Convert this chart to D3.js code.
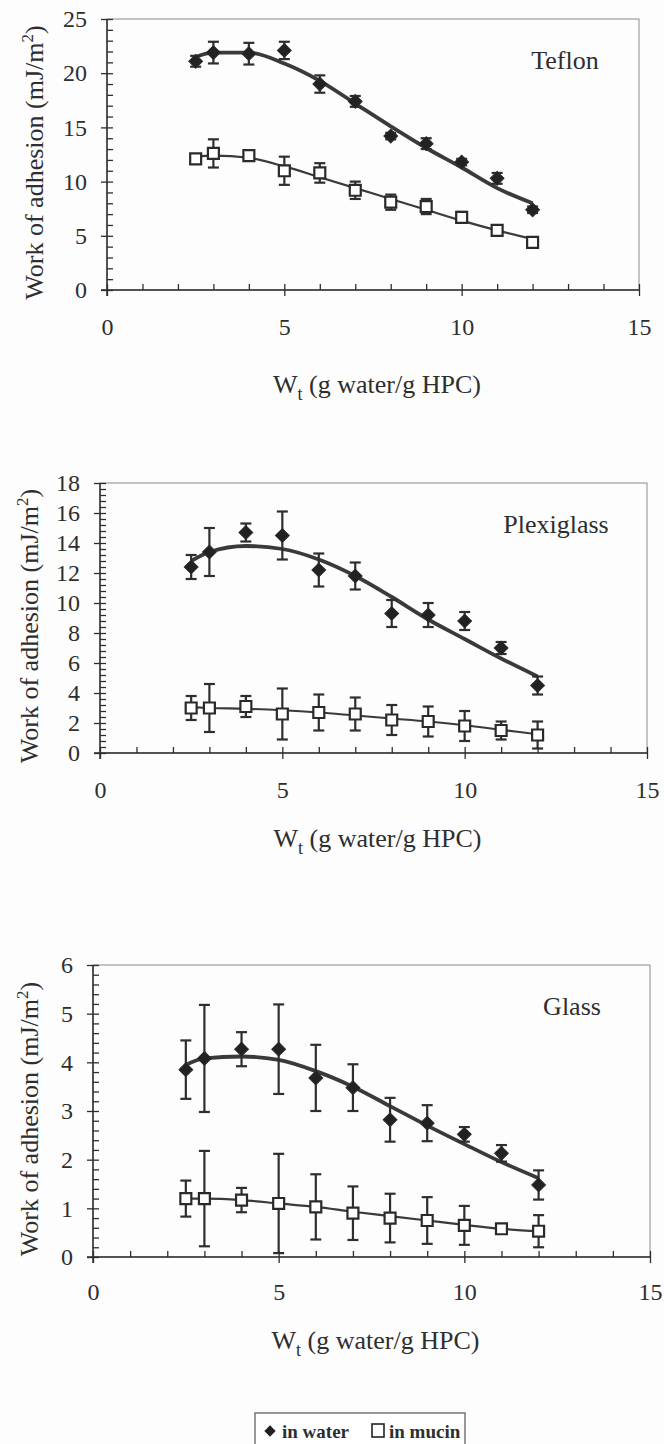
<!DOCTYPE html>
<html>
<head>
<meta charset="utf-8">
<script src="https://cdn.jsdelivr.net/npm/d3@7"></script>
<style>
  body { margin: 0; background: #fdfdfd; }
  svg text { font-family: "Liberation Serif", "Times New Roman", serif !important; fill: #2e2e2e; }
</style>
</head>
<body>
<script>
/*
 * Data
 *
 */
const wt = [2.5, 3, 4, 5, 6, 7, 8, 9, 10, 11, 12];

const teflonWater = [21.1, 21.9, 21.8, 22.1, 19.0, 17.4, 14.2, 13.5, 11.8, 10.3, 7.4];
const teflonWaterErr = [0.5, 1.0, 1.0, 0.8, 0.8, 0.5, 0.3, 0.5, 0.3, 0.5, 0.3];
const teflonWaterFit = [21.5, 21.9, 21.9, 20.9, 19.3, 17.2, 15.1, 13.1, 11.3, 9.4, 8.0];
const teflonMucin = [12.1, 12.6, 12.4, 11.0, 10.8, 9.2, 8.1, 7.7, 6.7, 5.5, 4.4];
const teflonMucinErr = [0.4, 1.3, 0.2, 1.3, 0.9, 0.8, 0.7, 0.7, 0.5, 0.3, 0.4];
const teflonMucinFit = [12.3, 12.4, 12.2, 11.4, 10.4, 9.4, 8.4, 7.4, 6.4, 5.5, 4.7];

const plexiWater = [12.4, 13.4, 14.7, 14.5, 12.2, 11.8, 9.3, 9.2, 8.8, 7.0, 4.5];
const plexiWaterErr = [0.8, 1.6, 0.6, 1.6, 1.1, 0.9, 0.9, 0.8, 0.6, 0.4, 0.6];
const plexiWaterFit = [12.8, 13.4, 13.8, 13.6, 12.9, 11.8, 10.4, 8.9, 7.6, 6.3, 5.1];
const plexiMucin = [3.0, 3.0, 3.1, 2.6, 2.7, 2.6, 2.2, 2.1, 1.8, 1.5, 1.2];
const plexiMucinErr = [0.8, 1.6, 0.7, 1.7, 1.2, 1.1, 1.0, 1.0, 1.0, 0.6, 0.9];
const plexiMucinFit = [3.05, 3.0, 2.95, 2.85, 2.7, 2.5, 2.3, 2.1, 1.85, 1.55, 1.25];

const glassWater = [3.85, 4.08, 4.27, 4.27, 3.68, 3.48, 2.82, 2.75, 2.52, 2.13, 1.48];
const glassWaterErr = [0.6, 1.1, 0.35, 0.92, 0.68, 0.48, 0.45, 0.37, 0.15, 0.17, 0.3];
const glassWaterFit = [3.95, 4.08, 4.12, 4.05, 3.82, 3.5, 3.1, 2.7, 2.32, 1.95, 1.62];
const glassMucin = [1.2, 1.2, 1.17, 1.1, 1.03, 0.9, 0.8, 0.75, 0.65, 0.58, 0.53];
const glassMucinErr = [0.37, 0.98, 0.25, 1.02, 0.67, 0.55, 0.5, 0.48, 0.4, 0.08, 0.33];
const glassMucinFit = [1.2, 1.2, 1.17, 1.1, 1.03, 0.93, 0.84, 0.75, 0.66, 0.58, 0.53];

const xTicks = [0, 5, 10, 15];
const legendLabels = ['in water', 'in mucin'];

const ink = '#2e2e2e';
const serif = '"Liberation Serif", "Times New Roman", serif';

const svg = d3.select('body')
  .append('svg')
  .attr('width', 664)
  .attr('height', 1444)
  .attr('font-family', serif);

/*
 * One panel
 *
 */
function drawPanel(p) {
  const x = d3.scaleLinear().domain([0, 15]).range([p.left, p.right]);
  const y = d3.scaleLinear().domain([0, p.ymax]).range([p.bottom, p.top]);
  const g = svg.append('g');

  // frame
  g.append('rect')
    .attr('x', p.left).attr('y', p.top)
    .attr('width', p.right - p.left).attr('height', p.bottom - p.top)
    .attr('fill', 'none').attr('stroke', '#8a8a8a').attr('stroke-width', 1);

  const minorY = d3.range(0, p.ymax + 1e-6, p.minor);
  const majorY = d3.range(0, p.ymax + 1e-6, p.major);

  // inside ticks, y
  g.append('g')
    .attr('transform', `translate(${p.left},0)`)
    .call(d3.axisLeft(y).tickValues(minorY).tickSize(-6).tickFormat(''))
    .call(a => a.select('.domain').remove());
  // outside ticks + labels, y
  g.append('g')
    .attr('transform', `translate(${p.left},0)`)
    .call(d3.axisLeft(y).tickValues(majorY).tickSize(6).tickPadding(14).tickFormat(d3.format('d')))
    .call(a => a.select('.domain').remove())
    .call(a => a.selectAll('text').style('font-size', '24px').style('font-family', serif).attr('fill', ink));

  const minorX = d3.range(0, 15.001, 1);
  g.append('g')
    .attr('transform', `translate(0,${p.bottom})`)
    .call(d3.axisBottom(x).tickValues(minorX).tickSize(-6).tickFormat(''))
    .call(a => a.select('.domain').remove());
  g.append('g')
    .attr('transform', `translate(0,${p.bottom})`)
    .call(d3.axisBottom(x).tickValues(xTicks).tickSize(6).tickPadding(p.xPad).tickFormat(d3.format('d')))
    .call(a => a.select('.domain').remove())
    .call(a => a.selectAll('text').style('font-size', '24px').style('font-family', serif).attr('fill', ink));

  g.selectAll('.tick line').attr('stroke', ink).attr('stroke-width', 1.3);

  // axis lines
  g.append('line')
    .attr('x1', p.left).attr('x2', p.left).attr('y1', p.top).attr('y2', p.bottom + 6)
    .attr('stroke', ink).attr('stroke-width', 1.5);
  g.append('line')
    .attr('x1', p.left - 6).attr('x2', p.right).attr('y1', p.bottom).attr('y2', p.bottom)
    .attr('stroke', ink).attr('stroke-width', 1.5);

  // axis titles
  const xt = g.append('text')
    .attr('x', (p.left + p.right) / 2 + 4).attr('y', p.xTitleY)
    .attr('text-anchor', 'middle').style('font-size', '26px');
  xt.append('tspan').text('W');
  xt.append('tspan').text('t').attr('dy', 7).style('font-size', '18px');
  xt.append('tspan').text(' (g water/g HPC)').attr('dy', -7);

  const yt = g.append('text')
    .attr('transform', `translate(${p.yTitleX},${(p.top + p.bottom) / 2 + 8}) rotate(-90)`)
    .attr('text-anchor', 'middle').style('font-size', '26px');
  yt.append('tspan').text('Work of adhesion (mJ/m');
  yt.append('tspan').text('2').attr('dy', -10).style('font-size', '17px');
  yt.append('tspan').text(')').attr('dy', 10);

  g.append('text')
    .attr('x', p.nameX).attr('y', p.top + 50)
    .attr('text-anchor', 'middle').style('font-size', '26px')
    .text(p.name);

  const line = d3.line()
    .x((d, i) => x(wt[i]))
    .y(d => y(d))
    .curve(d3.curveMonotoneX);

  const series = [
    { vals: p.water, err: p.waterErr, fit: p.waterFit, width: 3.8, shape: 'diamond' },
    { vals: p.mucin, err: p.mucinErr, fit: p.mucinFit, width: 2.2, shape: 'square' }
  ];

  series.forEach(s => {
    g.append('path')
      .attr('d', line(s.fit))
      .attr('fill', 'none').attr('stroke', '#3a3a3a')
      .attr('stroke-width', s.width);

    const eb = g.append('g').attr('stroke', ink).attr('stroke-width', 2.2);
    s.vals.forEach((v, i) => {
      const cx = x(wt[i]);
      const y0 = y(Math.max(0, v - s.err[i]));
      const y1 = y(v + s.err[i]);
      eb.append('line').attr('x1', cx).attr('x2', cx).attr('y1', y0).attr('y2', y1);
      eb.append('line').attr('x1', cx - 5.5).attr('x2', cx + 5.5).attr('y1', y0).attr('y2', y0);
      eb.append('line').attr('x1', cx - 5.5).attr('x2', cx + 5.5).attr('y1', y1).attr('y2', y1);
    });

    g.selectAll(null)
      .data(s.vals)
      .enter()
      .append('path')
      .attr('d', s.shape === 'diamond' ? d3.symbol(d3.symbolSquare, 95)() : d3.symbol(d3.symbolSquare, 120)())
      .attr('transform', (d, i) => `translate(${x(wt[i])},${y(d)})` + (s.shape === 'diamond' ? ' rotate(45)' : ''))
      .attr('fill', s.shape === 'diamond' ? '#222' : '#fff')
      .attr('stroke', '#2a2a2a')
      .attr('stroke-width', s.shape === 'diamond' ? 1 : 2.2);
  });
}

drawPanel({
  name: 'Teflon', nameX: 565,
  left: 107, right: 639, top: 19, bottom: 290,
  ymax: 25, major: 5, minor: 1, xPad: 22, xTitleY: 393, yTitleX: 43,
  water: teflonWater, waterErr: teflonWaterErr, waterFit: teflonWaterFit,
  mucin: teflonMucin, mucinErr: teflonMucinErr, mucinFit: teflonMucinFit
});

drawPanel({
  name: 'Plexiglass', nameX: 556,
  left: 100, right: 647, top: 483, bottom: 753,
  ymax: 18, major: 2, minor: 0.4, xPad: 22, xTitleY: 847, yTitleX: 38,
  water: plexiWater, waterErr: plexiWaterErr, waterFit: plexiWaterFit,
  mucin: plexiMucin, mucinErr: plexiMucinErr, mucinFit: plexiMucinFit
});

drawPanel({
  name: 'Glass', nameX: 572,
  left: 93, right: 650, top: 965, bottom: 1257,
  ymax: 6, major: 1, minor: 0.2, xPad: 20, xTitleY: 1349, yTitleX: 38,
  water: glassWater, waterErr: glassWaterErr, waterFit: glassWaterFit,
  mucin: glassMucin, mucinErr: glassMucinErr, mucinFit: glassMucinFit
});

/*
 * Legend
 *
 */
const legend = svg.append('g');
legend.append('rect')
  .attr('x', 255).attr('y', 1413).attr('width', 210).attr('height', 40)
  .attr('fill', '#fff').attr('stroke', '#555').attr('stroke-width', 1.2);

legend.append('path')
  .attr('d', d3.symbol(d3.symbolSquare, 64)())
  .attr('transform', 'translate(270,1431) rotate(45)')
  .attr('fill', '#222');
legend.append('text')
  .attr('x', 282).attr('y', 1438)
  .style('font-size', '19px').style('font-weight', 'bold')
  .text(legendLabels[0]);

legend.append('rect')
  .attr('x', 372).attr('y', 1424).attr('width', 12).attr('height', 13)
  .attr('fill', '#fff').attr('stroke', '#222').attr('stroke-width', 1.6);
legend.append('text')
  .attr('x', 389).attr('y', 1438)
  .style('font-size', '19px').style('font-weight', 'bold')
  .text(legendLabels[1]);
</script>
</body>
</html>
